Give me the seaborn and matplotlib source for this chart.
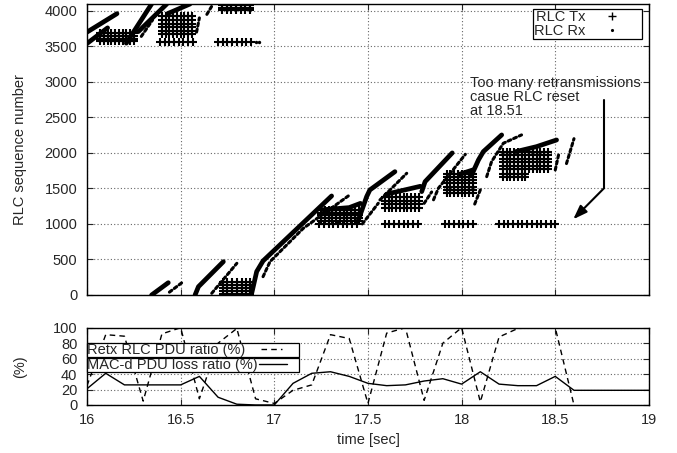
import itertools
import matplotlib
matplotlib.use('Agg')
import matplotlib.pyplot as plt
from matplotlib.lines import Line2D
import pandas as pd
import seaborn as sns

# --- bottom panel: ratios, one sample every 0.1 s ---
ratio_time = [16.0, 16.1, 16.2, 16.3, 16.4, 16.5, 16.6, 16.7, 16.8, 16.9,
              17.0, 17.1, 17.2, 17.3, 17.4, 17.5, 17.6, 17.7, 17.8, 17.9,
              18.0, 18.1, 18.2, 18.3, 18.4, 18.5, 18.6]
retx_ratio = [25, 91, 89, 5, 92, 100, 8, 80, 99, 8,
              2, 19, 26, 91, 86, 2, 93, 100, 6, 80,
              100, 4, 88, 99, 100, 100, 0]
loss_time = ratio_time + [19.0]
loss_ratio = [21, 41, 26, 26, 26, 26, 37, 10, 1, 0,
              0, 28, 41, 43, 37, 28, 25, 26, 31, 34,
              27, 43, 27, 25, 25, 37, 19, 19]

# --- top panel: RLC sequence numbers (mod 4096) ---
# dense runs of new Tx PDUs, read as (time, seq) polylines
tx_streaks = [
    ([16.00, 16.16], [3700, 3960]),
    ([16.00, 16.11], [3540, 3760]),
    ([16.21, 16.345], [3545, 4096]),
    ([16.345, 16.434], [0, 173]),
    ([16.274, 16.426], [3707, 4096]),
    ([16.43, 16.55], [3960, 4096]),
    ([16.577, 16.595, 16.728], [0, 117, 469]),
    ([16.879, 16.906, 16.94, 17.306], [20, 330, 480, 1394]),
    ([17.26, 17.40, 17.46], [1200, 1230, 1290]),
    ([17.449, 17.493, 17.51, 17.644], [1056, 1384, 1478, 1736]),
    ([17.60, 17.78], [1420, 1530]),
    ([17.787, 17.805, 17.95], [1455, 1595, 2000]),
    ([17.99, 18.06], [1700, 1760]),
    ([18.054, 18.09, 18.116, 18.214], [1690, 1901, 2018, 2253]),
    ([18.29, 18.40, 18.507], [2018, 2088, 2182]),
]
# sparser Rx tracks
rx_tracks = [
    ([16.29, 16.35], [3640, 3870]),
    ([16.585, 16.60], [3700, 3900]),
    ([16.64, 16.665], [3950, 4060]),
    ([16.44, 16.51], [40, 180]),
    ([16.666, 16.80], [24, 446]),
    ([16.94, 16.977, 17.155, 17.395], [258, 469, 939, 1394]),
    ([17.47, 17.555], [1000, 1291]),
    ([17.564, 17.60, 17.707], [1338, 1432, 1713]),
    ([17.80, 17.84], [1290, 1450]),
    ([17.85, 17.876, 18.02], [1340, 1502, 1980]),
    ([18.07, 18.10], [1280, 1480]),
    ([18.134, 18.16, 18.223, 18.32], [1666, 1877, 2136, 2253]),
    ([18.50, 18.52], [1760, 2000]),
    ([18.56, 18.60], [1850, 2200]),
]
rx_dot_time = [16.90, 16.92]
rx_dot_seq = [3560, 3560]

# retransmission blocks of Tx '+' (times x seqs)
tx_blocks = [
    ([16.07, 16.09, 16.11, 16.13, 16.15, 16.17, 16.19, 16.21, 16.23, 16.25], [3570, 3610, 3650, 3690]),
    ([16.40, 16.42, 16.44, 16.46, 16.48, 16.50, 16.52, 16.54, 16.56], [3670, 3720, 3770, 3820, 3870, 3920]),
    ([16.72, 16.745, 16.77, 16.795, 16.82, 16.845, 16.87], [4005, 4045, 4085]),
    ([16.725, 16.75, 16.775, 16.80, 16.825, 16.85, 16.87], [20, 60, 100, 140, 180]),
    ([17.25, 17.27, 17.29, 17.31, 17.33, 17.35, 17.37, 17.39, 17.41, 17.43, 17.45], [1040, 1080, 1120, 1160, 1195]),
    ([17.59, 17.61, 17.63, 17.65, 17.67, 17.69, 17.71, 17.73, 17.75, 17.77], [1230, 1280, 1330, 1380]),
    ([17.92, 17.94, 17.96, 17.98, 18.00, 18.02, 18.04, 18.06], [1430, 1480, 1525, 1570, 1620, 1665, 1710]),
    ([18.22, 18.24, 18.26, 18.28, 18.30, 18.32, 18.34, 18.36, 18.38, 18.40, 18.42, 18.44, 18.46],
     [1770, 1820, 1870, 1920, 1970, 2010]),
    ([18.22, 18.24, 18.26, 18.28, 18.30, 18.32, 18.34], [1660, 1710]),
]
# rows of Tx '+' at a fixed sequence number
row_seq = [3560, 3560, 1000, 1000, 1000, 1000]
row_times = [
    [16.39, 16.415, 16.44, 16.465, 16.49, 16.515, 16.54, 16.565],
    [16.70, 16.725, 16.75, 16.775, 16.80, 16.825, 16.85, 16.875],
    [17.24, 17.265, 17.29, 17.315, 17.34, 17.365, 17.39, 17.415, 17.44],
    [17.59, 17.615, 17.64, 17.665, 17.69, 17.715, 17.74, 17.765],
    [17.91, 17.935, 17.96, 17.985, 18.01, 18.035, 18.06],
    [18.20, 18.225, 18.25, 18.275, 18.30, 18.325, 18.35, 18.375, 18.40, 18.425, 18.45, 18.475, 18.50],
]

note_text = 'Too many retransmissions\ncasue RLC reset\nat 18.51'
note_pos = (18.047, 3084)
arrow_path = [(18.76, 2745), (18.76, 1502), (18.596, 1066)]

FS = 10.5


def main():
    sns.set_theme(style='ticks', rc={
        'xtick.direction': 'in', 'ytick.direction': 'in',
        'xtick.top': True, 'ytick.right': True,
        'axes.edgecolor': 'black', 'axes.linewidth': 1.0,
    })
    plt.rcParams['font.family'] = ['Liberation Sans', 'DejaVu Sans']

    fig = plt.figure(figsize=(6.77, 4.53), dpi=100)
    ax1 = fig.add_axes([0.1285, 0.3488, 0.830, 0.6424])
    ax2 = fig.add_axes([0.1285, 0.106, 0.830, 0.1706])

    # Tx '+' grids
    pts = []
    for xs, ys in tx_blocks:
        pts += list(itertools.product(xs, ys))
    for y, xs in zip(row_seq, row_times):
        pts += [(x, y) for x in xs]
    tx_df = pd.DataFrame(pts, columns=['time', 'seq'])
    sns.scatterplot(data=tx_df, x='time', y='seq', ax=ax1, marker='+',
                    color='black', s=32, linewidth=1.5, legend=False)

    for xs, ys in tx_streaks:
        ax1.plot(xs, ys, color='black', lw=3.4, solid_capstyle='round')
    for xs, ys in rx_tracks:
        ax1.plot(xs, ys, color='black', lw=2.2, linestyle=(0, (1, 1)),
                 dash_capstyle='round')
    sns.scatterplot(x=rx_dot_time, y=rx_dot_seq, ax=ax1, color='black',
                    s=6, linewidth=0, legend=False)

    ax1.set_xlim(16, 19)
    ax1.set_ylim(0, 4096)
    ax1.set_yticks(range(0, 4001, 500))
    ax1.set_xticks([16, 16.5, 17, 17.5, 18, 18.5, 19])
    ax1.tick_params(labelbottom=False, labelsize=FS, length=4, width=0.8, pad=7)
    ax1.set_ylabel('RLC sequence number', fontsize=FS)
    ax1.set_xlabel('')
    ax1.yaxis.set_label_coords(-0.106, 0.5)
    ax1.grid(True, linestyle=(0, (1, 2)), color='0.4', linewidth=0.8)

    ax1.text(note_pos[0], note_pos[1], note_text, ha='left', va='top',
             fontsize=FS, linespacing=1.0)
    ax1.plot([p[0] for p in arrow_path[:2]], [p[1] for p in arrow_path[:2]],
             color='black', lw=1.5)
    ax1.annotate('', xy=arrow_path[2], xytext=arrow_path[1],
                 arrowprops=dict(arrowstyle='-|>,head_length=0.7,head_width=0.25',
                                 color='black', lw=1.5, shrinkA=0, shrinkB=0))

    handles = [Line2D([], [], ls='none', marker='+', color='black', ms=6, mew=1),
               Line2D([], [], ls='none', marker='.', color='black', ms=2.5)]
    leg = ax1.legend(handles, ['RLC Tx', 'RLC Rx'], loc='upper left',
                     bbox_to_anchor=(0.794, 0.879, 0.194, 0.103), mode='expand',
                     markerfirst=False, fancybox=False, edgecolor='black',
                     framealpha=1, borderpad=0.05, labelspacing=0.0,
                     handlelength=2.0, handletextpad=0.85, borderaxespad=0,
                     fontsize=FS)
    leg.get_frame().set_linewidth(0.9)

    # bottom panel
    sns.lineplot(x=ratio_time, y=retx_ratio, ax=ax2, color='black', lw=1,
                 linestyle=(0, (4, 3)), label='Retx RLC PDU ratio (%)', legend=False)
    sns.lineplot(x=loss_time, y=loss_ratio, ax=ax2, color='black', lw=1,
                 label='MAC-d PDU loss ratio (%)', legend=False)
    ax2.set_xlim(16, 19)
    ax2.set_ylim(0, 100)
    ax2.set_yticks(range(0, 101, 20))
    ax2.set_xticks([16, 16.5, 17, 17.5, 18, 18.5, 19])
    ax2.set_xticklabels(['16', '16.5', '17', '17.5', '18', '18.5', '19'])
    ax2.tick_params(labelsize=FS, length=4, width=0.8, pad=6)
    ax2.tick_params(axis='y', pad=7)
    ax2.grid(True, linestyle=(0, (1, 2)), color='0.4', linewidth=0.8)
    ax2.set_ylabel('(%)', fontsize=FS)
    ax2.yaxis.set_label_coords(-0.106, 0.5)
    ax2.set_xlabel('time [sec]', fontsize=FS, labelpad=4)

    lines = ax2.get_lines()
    box_w = 0.3765
    leg1 = ax2.legend([lines[0]], ['Retx RLC PDU ratio (%)'], loc='upper left',
                      bbox_to_anchor=(0.0, 0.606, box_w, 0.2), mode='expand',
                      markerfirst=False, fancybox=False, edgecolor='black',
                      framealpha=1, borderpad=0.0, handlelength=1.4,
                      handletextpad=1.1, borderaxespad=0, fontsize=FS)
    leg1.get_frame().set_linewidth(0.9)
    ax2.add_artist(leg1)
    leg2 = ax2.legend([lines[1]], ['MAC-d PDU loss ratio (%)'], loc='upper left',
                      bbox_to_anchor=(0.0, 0.404, box_w, 0.2), mode='expand',
                      markerfirst=False, fancybox=False, edgecolor='black',
                      framealpha=1, borderpad=0.0, handlelength=1.9,
                      handletextpad=0.1, borderaxespad=0, fontsize=FS)
    leg2.get_frame().set_linewidth(0.9)

    fig.savefig('out.png', dpi=100)
    plt.close(fig)


if __name__ == '__main__':
    main()
